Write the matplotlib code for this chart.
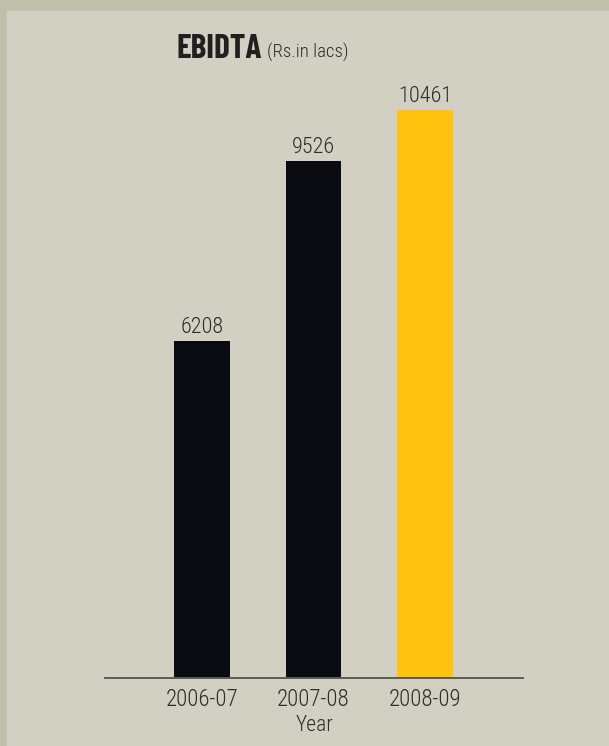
import matplotlib
matplotlib.use("Agg")
import matplotlib.pyplot as plt

years = ["2006-07", "2007-08", "2008-09"]
ebidta = [6208, 9526, 10461]
bar_colors = ["#0a0b10", "#0a0b10", "#ffc20e"]

plt.rcParams["font.family"] = ["Roboto Condensed", "DejaVu Sans"]
txt_color = "#2e2c2c"

W, H = 609, 746
fig = plt.figure(figsize=(W / 100, H / 100), dpi=100)
fig.patch.set_facecolor("#c1bfaa")
# inner panel, border left/top
fig.add_artist(plt.Rectangle((7 / W, 0), 1 - 7 / W, 1 - 11 / H,
                             transform=fig.transFigure, color="#d2d0c2", zorder=0))

ax = fig.add_axes([105 / W, (H - 678) / H, 418 / W, 597 / H])
ax.set_facecolor("none")
x = list(range(len(years)))
bars = ax.bar(x, ebidta, width=0.5, color=bar_colors, zorder=2)
ax.set_ylim(0, 11000)
ax.set_xlim(-0.87, 2.88)

for b, v in zip(bars, ebidta):
    ax.annotate(str(v), (b.get_x() + b.get_width() / 2, v), xytext=(0, 2.5),
                textcoords="offset points", ha="center", va="bottom",
                fontsize=16, fontweight="light", color=txt_color)

for s in ["top", "right", "left"]:
    ax.spines[s].set_visible(False)
ax.spines["bottom"].set_color("#5a5a58")
ax.spines["bottom"].set_linewidth(1.4)
ax.set_yticks([])
ax.set_xticks(x)
ax.set_xticklabels(years, fontsize=16.5, fontweight="light", color=txt_color)
ax.tick_params(axis="x", length=0, pad=7)
ax.set_xlabel("Year", fontsize=15.5, fontweight="light", color=txt_color, labelpad=3)

fig.text(176 / W, 1 - 58 / H, "EBIDTA", fontsize=24, fontweight="bold",
         family=["Barlow Condensed", "Roboto Condensed"],
         color="#231f20", va="baseline", ha="left")
fig.text(267 / W, 1 - 58 / H, "(Rs.in lacs)", fontsize=13.5, fontweight="light",
         color=txt_color, va="baseline", ha="left")

fig.savefig("out.png", dpi=100, facecolor=fig.get_facecolor())
